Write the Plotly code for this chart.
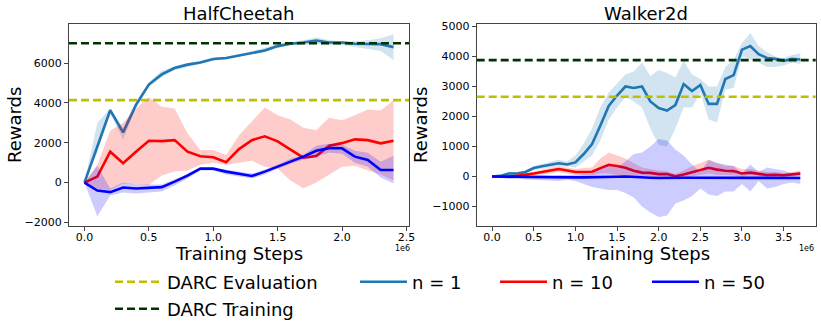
import plotly.graph_objects as go

# ---- data (x in units of 1e6 training steps) ----
steps_hc = [0.0, 0.1, 0.2, 0.3, 0.4, 0.5, 0.6, 0.7, 0.8, 0.9, 1.0, 1.1, 1.2,
            1.3, 1.4, 1.5, 1.6, 1.7, 1.8, 1.9, 2.0, 2.1, 2.2, 2.3, 2.4]

hc_n1 = [0, 1800, 3630, 2520, 3900, 4920, 5430, 5750, 5920, 6030, 6200, 6250, 6370,
         6520, 6630, 6850, 6970, 7030, 7130, 7030, 7030, 6970, 6950, 6950, 6800]
hc_n1_hi = [0, 3000, 3700, 2750, 4050, 5050, 5600, 5850, 6000, 6100, 6250, 6300, 6450,
            6600, 6750, 6950, 7050, 7150, 7300, 7150, 7100, 7100, 7150, 7250, 7450]
hc_n1_lo = [0, 1500, 3500, 2150, 3750, 4800, 5300, 5650, 5800, 5950, 6120, 6180, 6300,
            6450, 6550, 6750, 6900, 6900, 6950, 6900, 6900, 6800, 6700, 6600, 6150]

hc_n10 = [0, 300, 1550, 970, 1550, 2100, 2080, 2130, 1550, 1320, 1270, 1020, 1680,
          2130, 2320, 2070, 1650, 1250, 1330, 1850, 1980, 2170, 2130, 1970, 2100]
hc_n10_hi = [0, 900, 2600, 3000, 3700, 4300, 3800, 3720, 2470, 1630, 1630, 1380, 2380,
             3050, 3770, 3380, 3170, 2750, 2630, 3250, 3130, 3380, 3670, 3620, 4130]
hc_n10_lo = [0, -300, -370, -50, -100, -120, 350, 550, 600, 900, 1000, 900, 1000,
             1100, 800, 700, 100, -300, 0, 400, 800, 850, 600, 400, 100]

hc_n50 = [0, -400, -480, -250, -300, -280, -230, 50, 350, 700, 700, 550, 430,
          330, 550, 800, 1080, 1300, 1600, 1730, 1720, 1300, 1130, 630, 630]
hc_n50_hi = [0, 850, -300, 0, -100, -100, -100, 150, 450, 750, 750, 650, 550,
             450, 650, 900, 1200, 1400, 1850, 1950, 1900, 1600, 1500, 1050, 1350]
hc_n50_lo = [0, -1700, -650, -500, -550, -500, -450, -150, 200, 600, 600, 400, 300,
             200, 400, 700, 950, 1150, 1300, 1500, 1450, 1000, 800, 250, -50]

hc_darc_eval = 4140
hc_darc_train = 6990

steps_wk = [0.0, 0.1, 0.2, 0.3, 0.4, 0.5, 0.6, 0.7, 0.8, 0.9, 1.0, 1.1, 1.2, 1.3,
            1.4, 1.5, 1.6, 1.7, 1.8, 1.9, 2.0, 2.1, 2.2, 2.3, 2.4, 2.5, 2.6, 2.7,
            2.8, 2.9, 3.0, 3.1, 3.2, 3.3, 3.4, 3.5, 3.6, 3.7]

wk_n1 = [0, 20, 100, 100, 150, 280, 340, 390, 440, 400, 470, 750, 1080, 1700,
         2350, 2700, 3000, 2950, 3000, 2500, 2280, 2200, 2380, 3080, 2850, 3050, 2420, 2420,
         3250, 3380, 4230, 4350, 4080, 3950, 3920, 3850, 3920, 3900]
wk_n1_hi = [0, 50, 150, 150, 200, 350, 420, 480, 560, 500, 700, 1100, 1600, 2300,
            2800, 3100, 3400, 3500, 3800, 3350, 3550, 3450, 3300, 3850, 3400, 3250, 3000, 3000,
            3650, 3900, 4450, 4780, 4350, 4150, 4000, 3950, 4050, 4100]
wk_n1_lo = [0, 0, 50, 60, 100, 220, 270, 300, 350, 330, 300, 500, 700, 1200,
            1900, 2300, 2650, 2500, 2300, 1600, 1050, 1000, 1600, 2300, 2300, 2800, 1900, 1800,
            2900, 2950, 4000, 3900, 3800, 3650, 3650, 3700, 3800, 3750]

wk_n10 = [0, -10, 0, 20, 50, 100, 150, 200, 250, 200, 150, 150, 160, 280,
          390, 350, 290, 190, 130, 120, 80, 80, 10, 70, 140, 220, 290, 230,
          190, 180, 100, 130, 100, 50, 60, 40, 70, 100]
wk_n10_hi = [0, 10, 30, 60, 100, 170, 230, 300, 350, 300, 250, 280, 300, 600,
             800, 700, 600, 450, 300, 250, 200, 180, 80, 200, 350, 450, 570, 450,
             350, 350, 250, 250, 200, 150, 160, 120, 150, 200]
wk_n10_lo = [0, -30, -30, -20, 0, 30, 70, 100, 150, 100, 50, 30, 40, 100,
             100, 50, 0, -50, 0, 0, -30, -20, -50, -40, 0, 50, 100, 50,
             50, 30, -20, 30, 20, -20, -10, -20, 0, 20]

wk_n50 = [0, -5, -10, -15, -20, -30, -30, -30, -30, -30, -30, -30, -30, -20,
          -20, -10, 0, -20, -30, -40, -50, -40, -40, -40, -40, -40, -40, -40,
          -40, -40, -40, -40, -45, -45, -45, -50, -50, -50]
wk_n50_hi = [0, 20, 20, 20, 10, 0, 0, 0, 30, 30, 50, 80, 100, 300,
             400, 300, 500, 750, 800, 1000, 1250, 1200, 900, 700, 400, 150, 550, 450,
             400, 350, 100, 400, 150, 300, 250, 200, 100, 150]
wk_n50_lo = [0, -50, -80, -60, -100, -100, -120, -130, -150, -100, -150, -250, -350, -400,
             -450, -450, -550, -700, -1000, -1200, -1350, -1300, -900, -800, -650, -400, -600, -650,
             -500, -500, -250, -500, -150, -400, -350, -250, -200, -250]

wk_darc_eval = 2660
wk_darc_train = 3880

# ---- styling ----
W, H = 821, 332
FONT = "DejaVu Sans"
C_N1 = "#1f77b4"
C_N10 = "#ff0000"
C_N50 = "#0000ff"
C_EVAL = "#bfbf00"
C_TRAIN = "#003300"
AXIS = "#444444"
DASH = "8px,4px"


def px(x):
    return x / W


def py(y):
    return 1 - y / H


def band(fig, x, lo, hi, fill, xa, ya):
    fig.add_trace(
        go.Scatter(
            x=list(x) + list(x)[::-1],
            y=list(hi) + list(lo)[::-1],
            fill="toself",
            fillcolor=fill,
            line=dict(width=0),
            mode="lines",
            hoverinfo="skip",
            showlegend=False,
            xaxis=xa,
            yaxis=ya,
        )
    )


def curve(fig, x, y, color, name, xa, ya, legend, show):
    fig.add_trace(
        go.Scatter(
            x=x,
            y=y,
            mode="lines",
            name=name,
            line=dict(color=color, width=2.6),
            showlegend=show,
            legend=legend,
            xaxis=xa,
            yaxis=ya,
        )
    )


fig = go.Figure()

# legend-only entries for the DARC reference lines
fig.add_trace(go.Scatter(x=[None], y=[None], mode="lines", name="DARC Evaluation",
                         line=dict(color=C_EVAL, width=2.6, dash=DASH), legend="legend"))
fig.add_trace(go.Scatter(x=[None], y=[None], mode="lines", name="DARC Training",
                         line=dict(color=C_TRAIN, width=2.6, dash=DASH), legend="legend2"))

panels = [
    ("x", "y", steps_hc,
     [(hc_n1, hc_n1_lo, hc_n1_hi, C_N1, "rgba(31,119,180,0.2)", "n = 1", "legend3"),
      (hc_n10, hc_n10_lo, hc_n10_hi, C_N10, "rgba(255,0,0,0.2)", "n = 10", "legend4"),
      (hc_n50, hc_n50_lo, hc_n50_hi, C_N50, "rgba(0,0,255,0.2)", "n = 50", "legend5")]),
    ("x2", "y2", steps_wk,
     [(wk_n1, wk_n1_lo, wk_n1_hi, C_N1, "rgba(31,119,180,0.2)", "n = 1", "legend3"),
      (wk_n10, wk_n10_lo, wk_n10_hi, C_N10, "rgba(255,0,0,0.2)", "n = 10", "legend4"),
      (wk_n50, wk_n50_lo, wk_n50_hi, C_N50, "rgba(0,0,255,0.2)", "n = 50", "legend5")]),
]

for i, (xa, ya, steps, series) in enumerate(panels):
    for mean, lo, hi, color, fill, name, leg in series:
        band(fig, steps, lo, hi, fill, xa, ya)
        curve(fig, steps, mean, color, name, xa, ya, leg, i == 0)

# DARC horizontal reference lines
for xa, ya, ev, tr in [("x", "y", hc_darc_eval, hc_darc_train),
                       ("x2", "y2", wk_darc_eval, wk_darc_train)]:
    for val, col in [(ev, C_EVAL), (tr, C_TRAIN)]:
        fig.add_shape(type="line", xref=xa + " domain", yref=ya, x0=0, x1=1, y0=val, y1=val,
                      opacity=1, layer="above",
                      line=dict(color=col, width=2.6, dash=DASH))

axis_common = dict(
    showline=True, mirror=True, linecolor=AXIS, linewidth=1,
    ticks="outside", ticklen=4, tickwidth=1, tickcolor=AXIS,
    showgrid=False, zeroline=False, automargin=False,
    tickfont=dict(family=FONT, size=11, color="black"),
)

ydom = [py(225.7), py(23.5)]
fig.update_layout(
    xaxis=dict(domain=[px(69), px(409)], range=[-0.12, 2.52], tickvals=[0, 0.5, 1, 1.5, 2, 2.5],
               tickformat=".1f", anchor="y", ticklabelstandoff=-3, **axis_common),
    yaxis=dict(domain=ydom, range=[-2165, 7985], tickvals=[-2000, 0, 2000, 4000, 6000],
               anchor="x", **axis_common),
    xaxis2=dict(domain=[px(476.7), px(815.7)], range=[-0.185, 3.885],
                tickvals=[0, 0.5, 1, 1.5, 2, 2.5, 3, 3.5], tickformat=".1f", anchor="y2",
                ticklabelstandoff=-3, **axis_common),
    yaxis2=dict(domain=ydom, range=[-1640, 5100], tickvals=[-1000, 0, 1000, 2000, 3000, 4000, 5000],
                anchor="x2", **axis_common),
)

# titles, axis labels, offset text
texts = [
    ("HalfCheetah", 239, 13, 18, 0),
    ("Walker2d", 646, 13, 18, 0),
    ("Training Steps", 239, 253, 18, 0),
    ("Training Steps", 646, 253, 18, 0),
    ("Rewards", 14, 125, 18, -90),
    ("Rewards", 420, 125, 18, -90),
    ("1e6", 402, 248, 8, 0),
    ("1e6", 806, 248, 8, 0),
]
for t, x, y, s, ang in texts:
    fig.add_annotation(text=t, x=px(x), y=py(y), xref="paper", yref="paper",
                       showarrow=False, xanchor="center", yanchor="middle", textangle=ang,
                       font=dict(family=FONT, size=s, color="black"))

leg_common = dict(orientation="v", xanchor="left", yanchor="middle", bgcolor="rgba(0,0,0,0)",
                  borderwidth=0, itemwidth=47, font=dict(family=FONT, size=18, color="black"))
fig.update_layout(
    legend=dict(x=px(110), y=py(282), **leg_common),
    legend2=dict(x=px(110), y=py(309), **leg_common),
    legend3=dict(x=px(355), y=py(282), **leg_common),
    legend4=dict(x=px(495), y=py(282), **leg_common),
    legend5=dict(x=px(647), y=py(282), **leg_common),
)

fig.update_layout(
    template="none",
    width=W,
    height=H,
    autosize=False,
    margin=dict(l=0, r=0, t=0, b=0, autoexpand=False),
    plot_bgcolor="white",
    paper_bgcolor="white",
    font=dict(family=FONT),
)

# remove the browser's default page margin so the figure sits at the window origin
fig.write_html("out.html", config={"displayModeBar": False},
               post_script="document.body.style.margin='0';")
